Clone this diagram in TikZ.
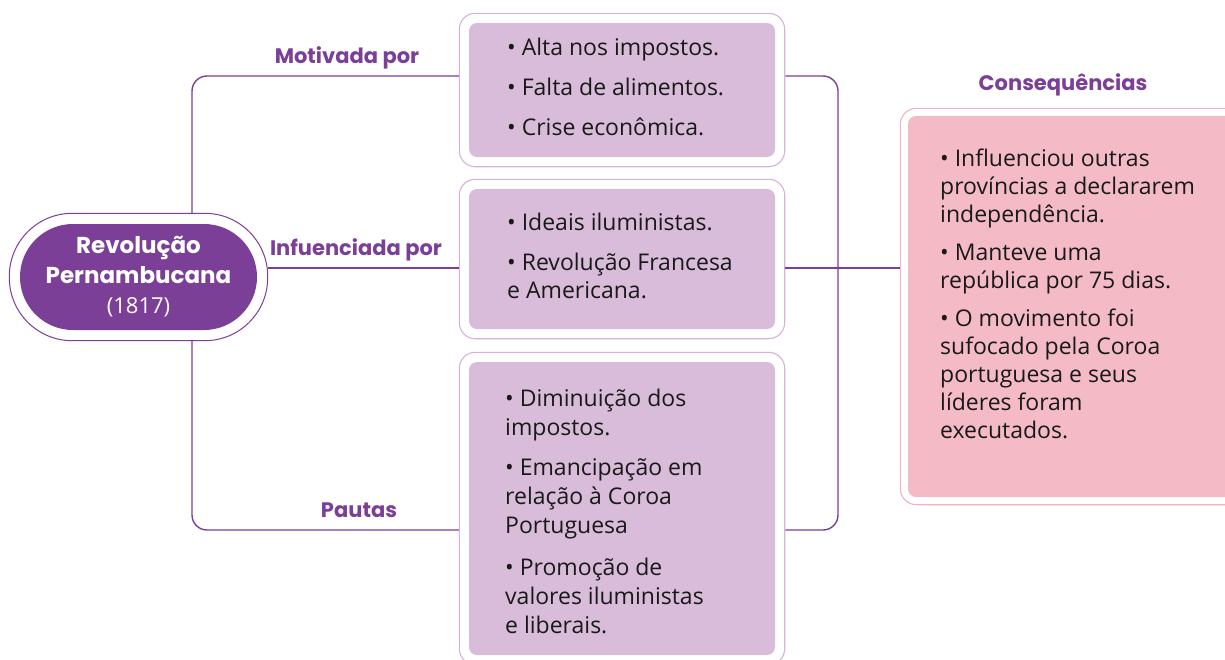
\documentclass[tikz,border=0pt]{standalone}
\usepackage{fontspec}
\setmainfont{Open Sans}
\newfontfamily\rotfont{Poppins}
\usetikzlibrary{fit,positioning}

\definecolor{roxo}{RGB}{123,63,152}
\definecolor{lilas}{RGB}{216,188,218}
\definecolor{lilasborda}{RGB}{214,178,216}
\definecolor{rosa}{RGB}{244,187,198}
\definecolor{rosaborda}{RGB}{242,178,193}
\definecolor{tinta}{RGB}{25,25,25}

\tikzset{
  elo/.style={draw=roxo, line width=1.4pt, rounded corners=15pt},
  centro/.style={fill=roxo, text=white, align=center, inner sep=0pt,
    minimum width=237pt, minimum height=106pt, rounded corners=53pt,
    font=\fontsize{22}{30}\selectfont},
  caixa/.style={fill=lilas, rounded corners=8pt, minimum width=306pt, inner sep=0pt},
  moldura/.style={draw=lilasborda, line width=1.1pt, rounded corners=16pt, inner sep=9.5pt, fit=#1},
  rotulo/.style={text=roxo, font=\rotfont\fontsize{21}{24}\selectfont\bfseries},
  texto/.style={anchor=north west, align=left, inner sep=0pt, text=tinta},
}

\begin{document}
\begin{tikzpicture}[x=1pt, y=-1pt]
  \useasboundingbox (0,0) rectangle (1225,659);

  % Eixos das ligacoes
  \coordinate (topo) at (0,76);
  \coordinate (eixo) at (0,268);
  \coordinate (base) at (0,530);
  \coordinate (dir) at (838,0);

  % Tema central
  \node[centro] (rev) at (138.5,277) {{\rotfont\bfseries\fontsize{23}{31}\selectfont Revolução}\\{\rotfont\bfseries\fontsize{23}{30}\selectfont Pernambucana}\\(1817)};
  \node[draw=roxo, line width=1pt, rounded corners=63pt, inner sep=10.5pt, fit=(rev)] (revo) {};

  % Caixas lilas
  \node[caixa, minimum height=134pt] (b1) at (622,90) {};
  \node[moldura=(b1)] (b1o) {};
  \node[caixa, minimum height=140pt] (b2) at (622,259) {};
  \node[moldura=(b2)] (b2o) {};
  \node[caixa, minimum height=293pt] (b3) at (622,508.5) {};
  \node[moldura=(b3)] (b3o) {};

  % Caixa das consequencias
  \node[caixa, fill=rosa, minimum width=332pt, minimum height=381pt] (b4) at (1074,306.5) {};
  \node[moldura=(b4), draw=rosaborda, inner sep=7.5pt] (b4o) {};

  % Textos
  \node[texto, font=\fontsize{23}{28}\selectfont] (t1) at (507,38)
    {• Alta nos impostos.\\[12pt]• Falta de alimentos.\\[12pt]• Crise econômica.};
  \node[texto, font=\fontsize{23}{28}\selectfont] (t2) at (507,213)
    {• Ideais iluministas.\\[12pt]• Revolução Francesa\\e Americana.};
  \node[texto, font=\fontsize{23}{29}\selectfont] (t3) at (505,389)
    {• Diminuição dos\\impostos.\\[11pt]• Emancipação em\\relação à Coroa\\Portuguesa\\[13pt]• Promoção de\\valores iluministas\\e liberais.};
  \node[texto, font=\fontsize{23}{28}\selectfont] (t4) at (940,149)
    {• Influenciou outras\\províncias a declararem\\independência.\\[10pt]• Manteve uma\\república por 75 dias.\\[10pt]• O movimento foi\\sufocado pela Coroa\\portuguesa e seus\\líderes foram\\executados.};

  % Rotulos
  \node[rotulo] (l1) at (347,58) {Motivada por};
  \node[rotulo] (l2) at (356,250) {Infuenciada por};
  \node[rotulo] (l3) at (359,510) {Pautas};
  \node[rotulo] (l4) at (1063,85) {Consequências};

  % Ligacoes
  \draw[elo] (b1o.west |- topo) -| ([xshift=53.5pt]revo.north);
  \draw[elo] (b3o.west |- base) -| ([xshift=53.5pt]revo.south);
  \draw[elo] (revo.east |- eixo) -- (b2o.west |- eixo);
  \draw[elo] (b2o.east |- eixo) -- (b4o.west |- eixo);
  \draw[elo] (b1o.east |- topo) -| (dir |- base) -- (b3o.east |- base);
\end{tikzpicture}
\end{document}
